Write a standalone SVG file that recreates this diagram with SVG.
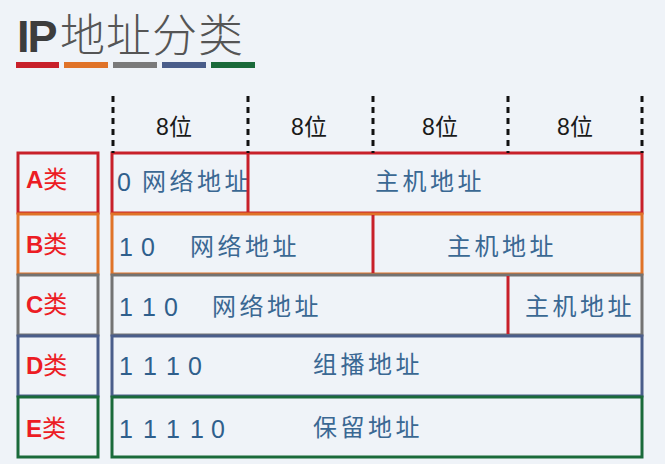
<svg xmlns="http://www.w3.org/2000/svg" width="665" height="464" viewBox="0 0 665 464">
<style>
.cjk{font-family:"Noto Sans CJK SC",sans-serif;font-size:24px;fill:#3a6893;letter-spacing:3.5px}
.dig{font-family:"Liberation Sans",sans-serif;font-size:25px;fill:#2f5f8c}
.lab{font-family:"Liberation Sans","Noto Sans CJK SC",sans-serif;font-size:24px;fill:#ec1c24}
.hd{font-family:"Liberation Sans","Noto Sans CJK SC",sans-serif;font-size:23px;fill:#1a1a1a}
.box{fill:none;stroke-width:3}
.dash{stroke:#111;stroke-width:3;stroke-dasharray:6 5}
.div{stroke:#c8202a;stroke-width:3}
</style>
<rect width="665" height="464" fill="#eff3f8"/>
<g id="title">
<text x="17" y="52" font-family="Liberation Sans,sans-serif" font-weight="bold" font-size="45" fill="#3d3d3d" letter-spacing="-2">IP</text>
<text x="60" y="52" font-family="Noto Sans CJK SC,sans-serif" font-size="45" font-weight="300" fill="#555" letter-spacing="1">地址分类</text>
<rect x="16" y="62" width="43" height="6" fill="#c8202a"/>
<rect x="64" y="62" width="44" height="6" fill="#e07328"/>
<rect x="113" y="62" width="44" height="6" fill="#7a7a7a"/>
<rect x="162" y="62" width="44" height="6" fill="#4a5d8a"/>
<rect x="211" y="62" width="44" height="6" fill="#1a6a3a"/>
</g>
<g id="header">
<text class="hd" x="174" y="135" text-anchor="middle">8位</text>
<text class="hd" x="309" y="135" text-anchor="middle">8位</text>
<text class="hd" x="440" y="135" text-anchor="middle">8位</text>
<text class="hd" x="575" y="135" text-anchor="middle">8位</text>
</g>
<g id="rowA">
<rect class="box" x="18" y="153" width="80" height="60" stroke="#c8202a"/>
<text class="lab" x="26" y="188"><tspan font-weight="bold">A</tspan>类</text>
<rect class="box" x="112" y="153" width="530" height="60" stroke="#c8202a"/>
<text class="dig" x="117" y="191">0</text>
<text class="cjk" x="142" y="190">网络地址</text>
<text class="cjk" x="375" y="190">主机地址</text>
</g>
<g id="rowB">
<rect class="box" x="18" y="214" width="80" height="60" stroke="#e07328"/>
<text class="lab" x="26" y="253"><tspan font-weight="bold">B</tspan>类</text>
<rect class="box" x="112" y="214" width="530" height="60" stroke="#e07328"/>
<text class="dig" x="119 141" y="256">10</text>
<text class="cjk" x="190" y="255">网络地址</text>
<text class="cjk" x="447" y="255">主机地址</text>
</g>
<g id="rowC">
<rect class="box" x="18" y="275" width="80" height="60" stroke="#737373"/>
<text class="lab" x="26" y="313"><tspan font-weight="bold">C</tspan>类</text>
<rect class="box" x="112" y="275" width="530" height="60" stroke="#737373"/>
<text class="dig" x="119 142 164" y="316">110</text>
<text class="cjk" x="212" y="315">网络地址</text>
<text class="cjk" x="525" y="315">主机地址</text>
</g>
<g id="rowD">
<rect class="box" x="18" y="336" width="80" height="60" stroke="#4a5d8a"/>
<text class="lab" x="26" y="374"><tspan font-weight="bold">D</tspan>类</text>
<rect class="box" x="112" y="336" width="530" height="60" stroke="#4a5d8a"/>
<text class="dig" x="119 143 166 188" y="375">1110</text>
<text class="cjk" x="313" y="373">组播地址</text>
</g>
<g id="rowE">
<rect class="box" x="18" y="397" width="80" height="60" stroke="#1a6a3a"/>
<text class="lab" x="26" y="437"><tspan font-weight="bold">E</tspan>类</text>
<rect class="box" x="112" y="397" width="530" height="60" stroke="#1a6a3a"/>
<text class="dig" x="119 143 166 190 211" y="438">11110</text>
<text class="cjk" x="313" y="436">保留地址</text>
</g>
<g id="connectors">
<line class="dash" x1="113" y1="96" x2="113" y2="153"/>
<line class="dash" x1="248" y1="96" x2="248" y2="153"/>
<line class="dash" x1="373" y1="96" x2="373" y2="153"/>
<line class="dash" x1="508" y1="96" x2="508" y2="153"/>
<line class="dash" x1="642" y1="96" x2="642" y2="153"/>
<line class="div" x1="248" y1="154" x2="248" y2="212"/>
<line class="div" x1="373" y1="215" x2="373" y2="273"/>
<line class="div" x1="508" y1="276" x2="508" y2="334"/>
</g>
</svg>
